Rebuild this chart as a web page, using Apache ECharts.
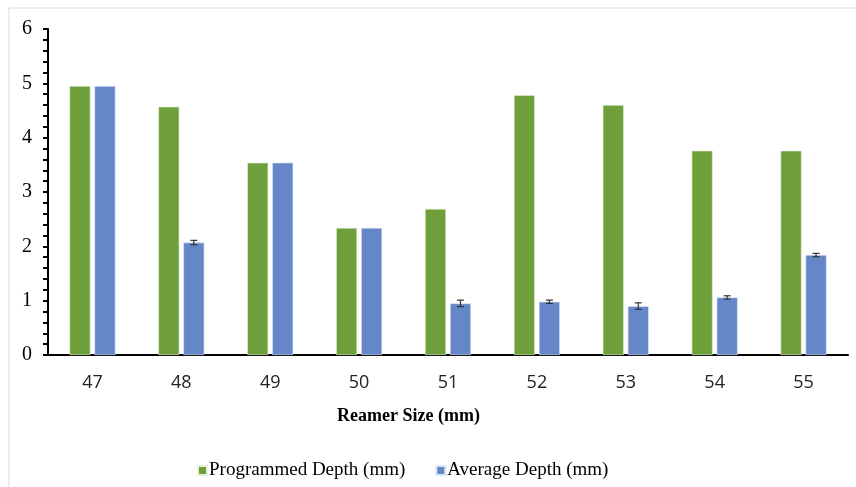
<!DOCTYPE html>
<html>
<head>
<meta charset="utf-8">
<script src="https://cdn.jsdelivr.net/npm/echarts@6/dist/echarts.min.js"></script>
<style>
  html, body { margin: 0; padding: 0; background: #fff; }
  #chart { width: 856px; height: 487px; }
</style>
</head>
<body>
<div id="chart"></div>
<script>
// 数据
var reamerSizes = ['47', '48', '49', '50', '51', '52', '53', '54', '55'];
var programmedDepth = [4.95, 4.57, 3.54, 2.34, 2.69, 4.78, 4.60, 3.76, 3.76];
var averageDepth = [4.95, 2.07, 3.54, 2.34, 0.95, 0.98, 0.90, 1.06, 1.84];
var averageError = [0, 0.04, 0, 0, 0.06, 0.03, 0.06, 0.03, 0.03];
var yTicks = [0, 1, 2, 3, 4, 5, 6];

var green = '#6F9F3B';
var blue = '#6687C7';
var barWidth = 21;
var barGapPx = 4;

var chart = echarts.init(document.getElementById('chart'), null, {renderer: 'canvas'});

var option = {
  animation: false,
  backgroundColor: '#fff',
  grid: {
    left: 48,
    right: 8,
    top: 29,
    bottom: 132
  },
  graphic: [
    {
      type: 'rect',
      shape: {x: 9, y: 8, width: 880, height: 520},
      style: {fill: 'none', stroke: '#d9d9d9', lineWidth: 1},
      silent: true
    },
    {
      type: 'text',
      left: 337,
      top: 407,
      style: {
        text: 'Reamer Size (mm)',
        font: 'bold 18px "Liberation Serif"',
        fill: '#000'
      }
    }
  ],
  legend: {
    left: 192,
    top: 456,
    itemWidth: 9,
    itemHeight: 9,
    itemGap: 30,
    icon: 'rect',
    textStyle: {
      fontFamily: 'Liberation Serif',
      fontSize: 19,
      color: '#000',
      padding: [0, 0, 0, -3]
    },
    data: ['Programmed Depth (mm)', 'Average Depth (mm)']
  },
  xAxis: {
    type: 'category',
    data: reamerSizes,
    axisLine: {lineStyle: {color: '#000', width: 2}},
    axisTick: {show: false},
    axisLabel: {
      color: '#222',
      fontFamily: 'Open Sans',
      fontSize: 18,
      margin: 19
    }
  },
  yAxis: {
    type: 'value',
    min: yTicks[0],
    max: yTicks[yTicks.length - 1],
    interval: 1,
    axisLine: {show: true, lineStyle: {color: '#000', width: 2}},
    axisTick: {show: true, length: 5, lineStyle: {color: '#000', width: 2}},
    minorTick: {show: true, splitNumber: 5, length: 5, lineStyle: {color: '#000', width: 2}},
    splitLine: {show: false},
    axisLabel: {
      color: '#000',
      fontFamily: 'Liberation Serif',
      fontSize: 20,
      margin: 16
    }
  },
  series: [
    {
      name: 'Programmed Depth (mm)',
      type: 'bar',
      data: programmedDepth,
      barWidth: barWidth,
      barGap: (barGapPx / barWidth * 100) + '%',
      itemStyle: {color: green, borderColor: '#e6f0dc', borderWidth: 0.6}
    },
    {
      name: 'Average Depth (mm)',
      type: 'bar',
      data: averageDepth,
      barWidth: barWidth,
      itemStyle: {color: blue, borderColor: '#dde6f6', borderWidth: 0.6}
    },
    {
      // 误差线
      name: 'error',
      type: 'custom',
      z: 10,
      data: averageDepth.map(function (v, i) { return [i, v, averageError[i]]; }),
      renderItem: function (params, api) {
        var idx = api.value(0);
        var val = api.value(1);
        var err = api.value(2);
        if (!err) return null;
        var off = (barWidth + barGapPx) / 2;
        var hi = api.coord([idx, val + err]);
        var lo = api.coord([idx, val - err]);
        var x = hi[0] + off;
        var cap = 3.5;
        var st = {stroke: '#333', lineWidth: 1.2};
        return {
          type: 'group',
          children: [
            {type: 'line', shape: {x1: x, y1: hi[1], x2: x, y2: lo[1]}, style: st},
            {type: 'line', shape: {x1: x - cap, y1: hi[1], x2: x + cap, y2: hi[1]}, style: st},
            {type: 'line', shape: {x1: x - cap, y1: lo[1], x2: x + cap, y2: lo[1]}, style: st}
          ]
        };
      },
      silent: true
    }
  ]
};

chart.setOption(option);
</script>
</body>
</html>
